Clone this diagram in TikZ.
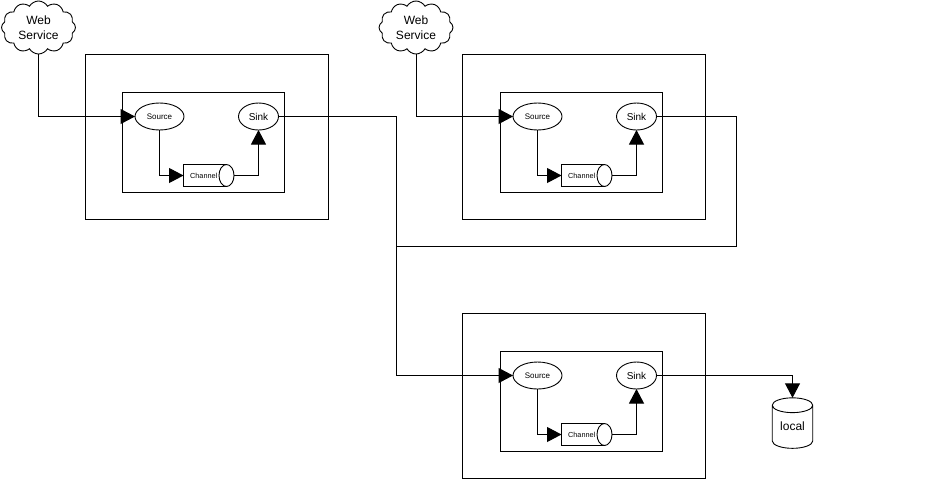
\documentclass[tikz,border=0pt]{standalone}
\usepackage{fontspec}
\setmainfont{Liberation Sans}
\usetikzlibrary{arrows.meta,shapes.geometric,shapes.symbols}
\tikzset{
	every node/.style={outer sep=0pt,inner sep=0pt,line width=0.9pt},
	box/.style={draw,line width=1pt,rectangle,anchor=north west},
	elem/.style={draw,ellipse,fill=white},
	flow/.style={line width=1pt,-{Triangle[length=14.5pt,width=15pt]}},
	wire/.style={line width=1pt},
	webcloud/.style={draw,cloud,cloud puffs=12,cloud puff arc=120,aspect=1.4,
		minimum width=74pt,minimum height=53pt,align=center,font=\fontsize{12}{15}\selectfont},
}
\begin{document}
\begin{tikzpicture}[x=1pt,y=-1pt]
	\useasboundingbox (0,0) rectangle (928,480);
	% the three agents
	\foreach \n/\ox/\dx/\dy in {1/0/0/0,2/377/378/0,3/377/378/259}{
		\node[box,minimum width=242.5pt,minimum height=165pt] (outer\n) at (85.5+\ox,54.5+\dy) {};
		\begin{scope}[shift={(\dx,\dy)}]
			\node[box,minimum width=162pt,minimum height=99.5pt] (inner\n) at (122.5,92.5) {};
			\node[elem,minimum width=49pt,minimum height=27pt,font=\fontsize{8}{9}\selectfont] (source\n) at (159.5,116.5) {Source};
			\node[elem,minimum width=40pt,minimum height=27pt,font=\fontsize{10}{12}\selectfont] (sink\n) at (258.5,116.5) {Sink};
			% channel: body, then its round end on top
			\node[draw,rectangle,minimum width=40.5pt,minimum height=22pt,font=\fontsize{7.3}{9}\selectfont] (channel\n) at (203.75,175.5) {Channel};
			\node[elem,minimum width=15pt,minimum height=22pt] (channelend\n) at (226.5,175.5) {};
			\draw[line width=0.9pt] (channel\n.north east) -- (channelend\n.north);
			\draw[line width=0.9pt] (channel\n.south east) -- (channelend\n.south);
		\end{scope}
		% inside the agent
		\draw[flow] (source\n.south) |- (channel\n.west);
		\draw[flow] (channelend\n.east) -| (sink\n.south);
	}
	% clouds and store
	\node[webcloud] (web1) at (38.5,27.5) {Web\\Service};
	\node[webcloud] (web2) at (416,27.5) {Web\\Service};
	\node[draw,cylinder,shape border rotate=90,aspect=0.6,minimum width=40.5pt,minimum height=50.5pt,
		font=\fontsize{12}{14}\selectfont] (local) at (792.5,427) {\raisebox{2pt}{local}};
	% web service to source
	\draw[flow] (web1.south) |- (source1.west);
	\draw[flow] (web2.south) |- (source2.west);
	% the sinks to the third source
	\coordinate (turn1) at (396.5,116.5);
	\coordinate (join) at (396.5,246.5);
	\coordinate (turn2) at (736.5,116.5);
	\coordinate (turn3) at (736.5,246.5);
	\draw[wire] (sink1.east) -- (turn1) -- (join);
	\draw[wire] (sink2.east) -- (turn2) -- (turn3) -- (join);
	\draw[flow] (join) |- (source3.west);
	% the third sink to the store
	\draw[flow] (sink3.east) -| (local.north);
\end{tikzpicture}
\end{document}
